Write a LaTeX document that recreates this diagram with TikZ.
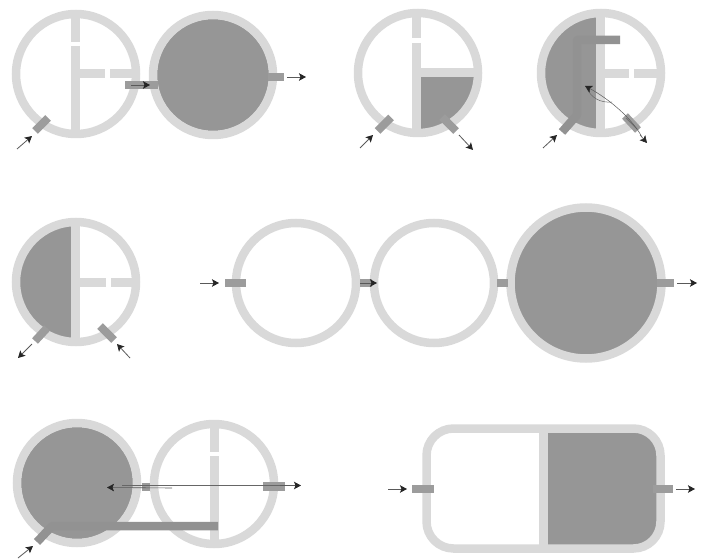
\documentclass[tikz,border=0pt]{standalone}
\usetikzlibrary{arrows.meta}
\definecolor{wallc}{HTML}{D9D9D9}
\definecolor{fillc}{HTML}{969696}
\definecolor{portc}{HTML}{9C9C9C}
\definecolor{pipec}{HTML}{929292}
\tikzset{
  x=1bp,y=-1bp,
  ring/.style={draw=wallc,line width=8.5bp},
  wall/.style={draw=wallc,line width=9bp,line cap=butt},
  water/.style={fill=fillc,draw=none},
  port/.style={draw=portc,line width=8bp,line cap=butt},
  pipe/.style={draw=pipec,line width=8.5bp,line cap=butt,line join=round},
  flow/.style={draw=black!65,line width=.8bp,-{Stealth[length=7bp,width=7.5bp,inset=1.5bp,color=black!85,fill=black!85]}},
  thin flow/.style={draw=black!60,line width=.5bp}
}
\newcommand{\tankring}[3]{\draw[ring] (#1,#2) circle[radius=#3];}
\begin{document}
\begin{tikzpicture}
\useasboundingbox (0,0) rectangle (705,559);
% --- top row, first pair
\tankring{76}{74}{60}
\draw[wall] (75,16) -- (75,42);
\draw[wall] (75,46) -- (75,132);
\draw[wall] (79,74) -- (105,74);
\draw[wall] (110,74) -- (133,74);
\fill[water] (213,75) circle[radius=56];
\tankring{213}{75}{60}
\draw[port] (35,131) -- (48,118);
\draw[port] (125,85.5) -- (158,85.5);
\draw[port] (268,76.7) -- (284,76.7);
\draw[flow] (17,149) -- (32,136);
\draw[flow] (131,85) -- (150,85);
\draw[flow] (287,77) -- (306,77);
% --- top row, quadrant
\begin{scope}
\clip (421,77) rectangle (490,140);
\fill[water] (418,73) circle[radius=57];
\end{scope}
\tankring{418}{73}{60}
\draw[wall] (416.5,15) -- (416.5,38);
\draw[wall] (416.5,43) -- (416.5,131);
\draw[wall] (421,73) -- (476,73);
\draw[port] (377.5,131) -- (391,117.5);
\draw[port] (442,117) -- (456,131);
\draw[flow] (360,148) -- (373,135);
\draw[flow] (459,135) -- (473,150);
% --- top row, half with pipe
\begin{scope}
\clip (530,10) rectangle (596,140);
\fill[water] (601,73) circle[radius=57];
\end{scope}
\tankring{601}{73}{60}
\draw[wall] (600,15) -- (600,131);
\draw[wall] (604,74) -- (629,74);
\draw[wall] (634,74) -- (659,74);
\draw[pipe] (620,40) -- (577,40) -- (577,115) -- (562,132);
\draw[port] (625,116) -- (638,130);
\draw[draw=black!55,line width=1bp] (626,118) -- (637,129);
\draw[thin flow] (612,102) .. controls (600,103) and (592,98) .. (587,89);
\draw[flow,line width=.5bp] (642,137) .. controls (628,112) and (600,94) .. (585,86);
\draw[flow,line width=.5bp] (640,135) -- (647,143);
\draw[flow] (543,148) -- (557,135);
% --- middle row, half
\begin{scope}
\clip (5,210) rectangle (72,350);
\fill[water] (76,282) circle[radius=57];
\end{scope}
\tankring{76}{282}{60}
\draw[wall] (75.5,224) -- (75.5,340);
\draw[wall] (80,282.5) -- (106,282.5);
\draw[wall] (111,282.5) -- (133,282.5);
\draw[port] (35,341) -- (47,328);
\draw[port] (100,326) -- (114,340);
\draw[flow] (32,344) -- (18,358);
\draw[flow] (130,358) -- (117,344);
% --- middle row, series
\tankring{296}{283}{60}
\tankring{434}{283}{60}
\fill[water] (586,283) circle[radius=72];
\tankring{586}{283}{75.5}
\draw[port] (225,283) -- (246,283);
\draw[port] (360,283) -- (372,283);
\draw[port] (497,283) -- (508,283);
\draw[port] (657,283) -- (674,283);
\draw[flow] (200,283) -- (219,283);
\draw[flow] (360,283) -- (377,283);
\draw[flow] (677,283) -- (697,283);
% --- bottom row, pair with pipe
\fill[water] (77,483) circle[radius=56];
\tankring{77}{483}{60}
\tankring{214}{484}{60}
\draw[wall] (214.5,426) -- (214.5,451.5);
\draw[wall] (214.5,456) -- (214.5,542);
\draw[pipe] (218,526) -- (52,526) -- (37,542);
\draw[port] (142,487) -- (150,487);
\draw[draw=portc,line width=9bp] (263,486.5) -- (285,486.5);
\draw[thin flow,line width=.9bp] (122,485) -- (290,485);
\draw[flow] (280,485.5) -- (301,485.5);
\draw[flow,line width=.6bp] (172,488) -- (107,487.5);
\draw[flow] (18,558) -- (33,546);
% --- bottom row, rounded tank
\begin{scope}
\clip (548,425) rectangle (670,555);
\fill[water] (500,428) [rounded corners=25bp] rectangle (661,549);
\end{scope}
\draw[ring,rounded corners=27bp] (426.5,428.5) rectangle (660.5,548.5);
\draw[wall] (543.5,428) -- (543.5,549);
\draw[port] (412,489) -- (434,489);
\draw[port] (653,489) -- (673,489);
\draw[flow] (388,489) -- (407,489);
\draw[flow] (676,489) -- (695,489);
\end{tikzpicture}
\end{document}
